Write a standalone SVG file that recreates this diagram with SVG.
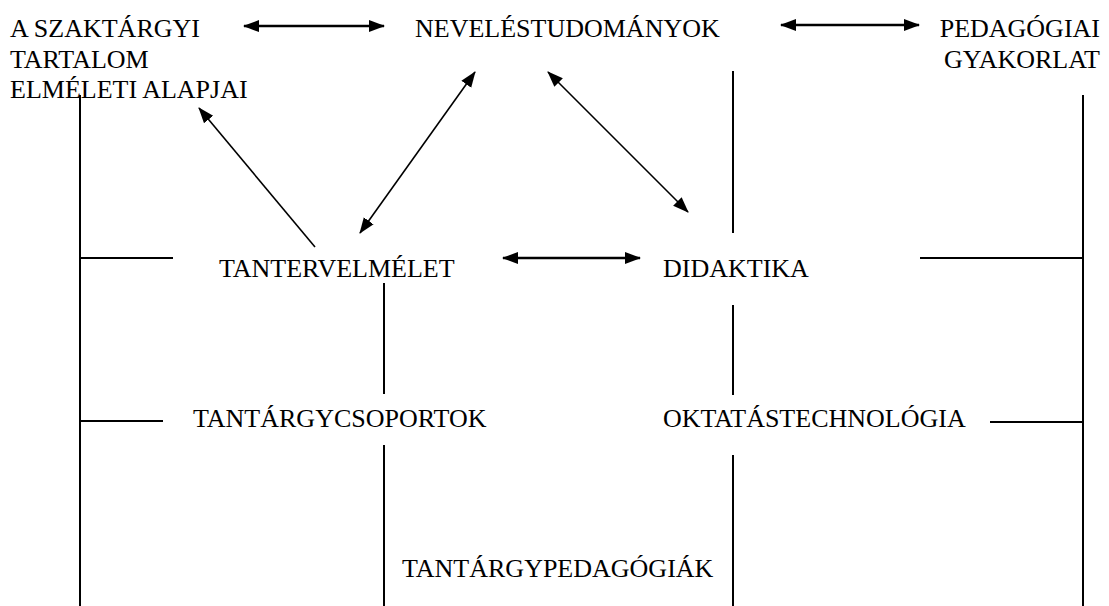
<svg xmlns="http://www.w3.org/2000/svg" width="1109" height="606" viewBox="0 0 1109 606">
<rect width="1109" height="606" fill="#fff"/>
<g id="node-szaktargyi"><text x="10" y="37" font-family="Times New Roman" font-size="26">A SZAKTÁRGYI</text><text x="10" y="68" font-family="Times New Roman" font-size="26">TARTALOM</text><text x="10" y="98" font-family="Times New Roman" font-size="26">ELMÉLETI ALAPJAI</text></g>
<g id="node-neveles"><text x="415" y="37" font-family="Times New Roman" font-size="26">NEVELÉSTUDOMÁNYOK</text></g>
<g id="node-gyakorlat"><text x="1100" y="37" text-anchor="end" font-family="Times New Roman" font-size="26">PEDAGÓGIAI</text><text x="1100" y="68" text-anchor="end" font-family="Times New Roman" font-size="26">GYAKORLAT</text></g>
<g id="node-tanterv"><text x="219" y="277" font-family="Times New Roman" font-size="26">TANTERVELMÉLET</text></g>
<g id="node-didaktika"><text x="663" y="277" font-family="Times New Roman" font-size="26">DIDAKTIKA</text></g>
<g id="node-csoportok"><text x="193" y="427" font-family="Times New Roman" font-size="26">TANTÁRGYCSOPORTOK</text></g>
<g id="node-oktatas"><text x="663" y="427" font-family="Times New Roman" font-size="26">OKTATÁSTECHNOLÓGIA</text></g>
<g id="node-pedagogiak"><text x="402" y="577" font-family="Times New Roman" font-size="26">TANTÁRGYPEDAGÓGIÁK</text></g>
<defs>
<marker id="ah" markerUnits="userSpaceOnUse" markerWidth="16" markerHeight="14" viewBox="0 0 16 14" refX="15" refY="7" orient="auto-start-reverse"><path d="M0,1 L16,7 L0,13 z" fill="#000"/></marker>
</defs>
<g id="connectors" stroke="#000" fill="none">
<g stroke-width="2">
<line x1="80" y1="95" x2="80" y2="606"/>
<line x1="80" y1="258" x2="173" y2="258"/>
<line x1="80" y1="421" x2="163" y2="421"/>
<line x1="384" y1="283" x2="384" y2="394"/>
<line x1="384" y1="445" x2="384" y2="606"/>
<line x1="733" y1="71" x2="733" y2="233"/>
<line x1="733" y1="305" x2="733" y2="395"/>
<line x1="733" y1="455" x2="733" y2="606"/>
<line x1="1083" y1="95" x2="1083" y2="606"/>
<line x1="920" y1="258" x2="1083" y2="258"/>
<line x1="990" y1="422" x2="1083" y2="422"/>
</g>
<g stroke-width="2.5" marker-start="url(#ah)" marker-end="url(#ah)">
<line x1="244" y1="26" x2="384" y2="26"/>
<line x1="781" y1="25" x2="919" y2="25"/>
<line x1="503" y1="258" x2="640" y2="258"/>
</g>
<g stroke-width="1.6" marker-start="url(#ah)" marker-end="url(#ah)">
<line x1="475" y1="72" x2="360" y2="233"/>
<line x1="548" y1="72" x2="688" y2="212"/>
</g>
<line stroke-width="1.6" marker-end="url(#ah)" x1="315" y1="247" x2="199" y2="108"/>
</g>
</svg>
